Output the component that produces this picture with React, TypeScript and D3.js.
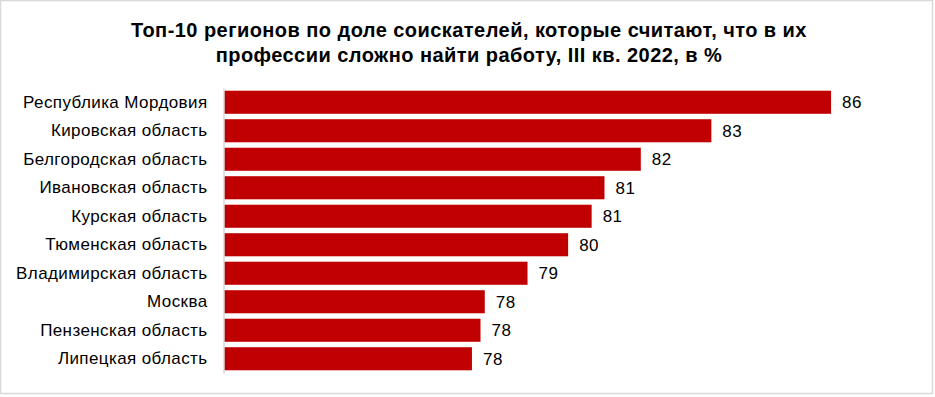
import { useEffect, useRef } from "react";
import * as d3 from "d3";

const TITLE_LINES = [
  "Топ-10 регионов по доле соискателей, которые считают, что в их",
  "профессии сложно найти работу, III кв. 2022, в %",
];

const REGIONS = [
  "Республика Мордовия",
  "Кировская область",
  "Белгородская область",
  "Ивановская область",
  "Курская область",
  "Тюменская область",
  "Владимирская область",
  "Москва",
  "Пензенская область",
  "Липецкая область",
];

// shares, % (labels are rounded)
const SHARES = [86.2, 83.4, 81.75, 80.9, 80.6, 80.05, 79.1, 78.1, 78.0, 77.8];

const WIDTH = 935;
const HEIGHT = 397;
const BAR_COLOR = "#c00000";
const FONT = "Arial, 'Liberation Sans', sans-serif";

export default function App() {
  const svgRef = useRef<SVGSVGElement | null>(null);

  useEffect(() => {
    const svg = svgRef.current;
    if (!svg) return;
    svg.innerHTML = "";
    const root = d3.select(svg).attr("width", WIDTH).attr("height", HEIGHT);

    // frame
    root
      .append("rect")
      .attr("x", 0.5)
      .attr("y", 0.5)
      .attr("width", 932)
      .attr("height", 393)
      .attr("fill", "#fff")
      .attr("stroke", "#d9d9d9")
      .attr("stroke-width", 1.5);

    // title
    root
      .append("text")
      .attr("text-anchor", "middle")
      .style("font-family", FONT)
      .style("font-weight", "bold")
      .style("font-size", "20px")
      .style("letter-spacing", "0.45px")
      .style("fill", "#000")
      .selectAll("tspan")
      .data(TITLE_LINES)
      .join("tspan")
      .attr("x", 469)
      .attr("y", (_, i) => 37 + i * 25)
      .text((d) => d);

    const x = d3.scaleLinear().domain([72, 88]).range([224, 908]);

    const y = d3
      .scaleBand()
      .domain(REGIONS)
      .range([88, 373])
      .paddingInner(0.19)
      .paddingOuter(0.095);

    const rows = REGIONS.map((r, i) => ({ region: r, value: SHARES[i] }));

    // bars
    root
      .append("g")
      .selectAll("rect")
      .data(rows)
      .join("rect")
      .attr("x", x(72))
      .attr("y", (d) => y(d.region)!)
      .attr("width", (d) => x(d.value) - x(72))
      .attr("height", y.bandwidth())
      .attr("fill", BAR_COLOR);

    // value labels
    root
      .append("g")
      .selectAll("text")
      .data(rows)
      .join("text")
      .attr("x", (d) => x(d.value) + 11)
      .attr("y", (d) => y(d.region)! + y.bandwidth() / 2)
      .attr("dy", "0.36em")
      .style("font-family", FONT)
      .style("font-size", "17px")
      .style("letter-spacing", "0.5px")
      .style("fill", "#000")
      .text((d) => d3.format(".0f")(d.value));

    // category axis
    const axis = root
      .append("g")
      .attr("transform", `translate(${x(72) - 0.5},0)`)
      .call(d3.axisLeft(y).tickSize(0).tickPadding(16));
    axis.select(".domain").attr("stroke", "#d9d9d9").attr("stroke-width", 1.5);
    axis
      .selectAll("text")
      .style("font-family", FONT)
      .style("font-size", "17px")
      .style("letter-spacing", "0.4px")
      .style("fill", "#000");
  }, []);

  return (
    <div style={{ position: "absolute", left: 0, top: 0 }}>
      <svg ref={svgRef} style={{ display: "block" }} />
    </div>
  );
}
